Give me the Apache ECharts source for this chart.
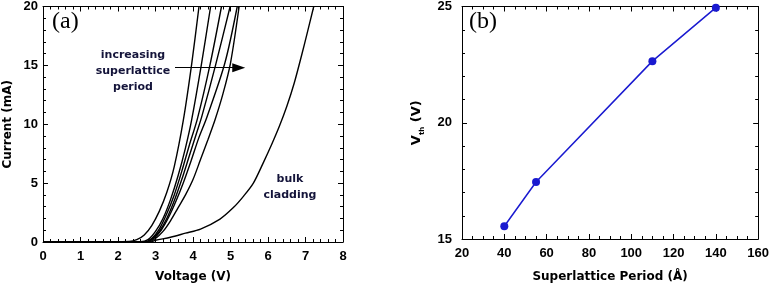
<!DOCTYPE html>
<html>
<head>
<meta charset="utf-8">
<script src="https://cdn.jsdelivr.net/npm/echarts@6/dist/echarts.min.js"></script>
<style>
  html, body { margin: 0; padding: 0; background: #fff; }
  #main { width: 772px; height: 288px; }
</style>
</head>
<body>
<div id="main"></div>
<script>
// (a) I-V curves, [voltage, current]
var sl1 = [[0, 0], [2.3, 0.05], [2.5, 0.2], [2.7, 0.6], [2.9, 1.4], [3.1, 2.6], [3.3, 4.2], [3.5, 6.4], [3.74, 10.3], [3.96, 15.0], [4.16, 20]];
var sl2 = [[0, 0], [2.6, 0.02], [2.8, 0.2], [3.0, 0.9], [3.2, 2.0], [3.4, 3.6], [3.6, 5.6], [3.8, 8.0], [3.96, 10.3], [4.22, 15], [4.47, 20]];
var sl3 = [[0, 0], [2.7, 0], [2.9, 0.3], [3.1, 1.1], [3.3, 2.4], [3.5, 4.0], [3.7, 6.0], [3.9, 8.2], [4.12, 10.5], [4.45, 15], [4.76, 20]];
var sl4 = [[0, 0], [2.7, 0], [2.9, 0.25], [3.1, 0.9], [3.3, 2.0], [3.5, 3.5], [3.7, 5.3], [3.9, 7.3], [4.1, 9.3], [4.23, 10.6], [4.6, 15], [4.99, 20]];
var sl5 = [[0, 0], [2.75, 0], [2.95, 0.3], [3.15, 1.0], [3.35, 2.1], [3.55, 3.5], [3.75, 5.1], [3.95, 6.9], [4.15, 8.8], [4.37, 10.6], [4.85, 15.2], [5.18, 20]];
var sl6 = [[0, 0], [2.8, 0], [3.0, 0.3], [3.2, 0.9], [3.4, 1.8], [3.6, 2.9], [3.8, 4.0], [4.0, 5.3], [4.2, 7.0], [4.4, 8.7], [4.59, 10.4], [4.8, 12.6], [5.0, 15.2], [5.23, 20]];
var bulk = [[0, 0], [2.85, 0], [3.0, 0.15], [3.4, 0.4], [3.8, 0.75], [4.2, 1.1], [4.72, 1.95], [5.07, 2.9], [5.35, 3.9], [5.61, 5.0], [5.87, 6.7], [6.1, 8.3], [6.3, 9.8], [6.5, 11.5], [6.7, 13.5], [6.9, 15.9], [7.05, 17.8], [7.22, 20]];

// (b) threshold voltage vs superlattice period
var period = [40, 55, 110, 140];
var vth = [15.55, 17.45, 22.65, 24.95];

var myChart = echarts.init(document.getElementById('main'));

var labelFont = { color: '#000', fontFamily: 'Arial, "Liberation Sans"', fontWeight: 'bold', fontSize: 13 };
var nameFont = { color: '#000', fontFamily: '"DejaVu Sans"', fontWeight: 'bold', fontSize: 12 };
var annFont = '"DejaVu Sans"';
var inkColor = '#14143a';

function baseAxis(extra) {
	var a = {
		type: 'value',
		axisLine: { show: true, onZero: false, lineStyle: { color: '#000', width: 1 } },
		axisTick: { show: true, inside: true, length: 5, lineStyle: { color: '#000' } },
		minorTick: { show: true, splitNumber: 5, length: 3, lineStyle: { color: '#000' } },
		splitLine: { show: false },
		axisLabel: Object.assign({ show: true }, labelFont)
	};
	return Object.assign(a, extra);
}

var ivLines = [sl1, sl2, sl3, sl4, sl5, sl6, bulk].map(function(d, i) {
	return {
		type: 'line',
		xAxisIndex: 0,
		yAxisIndex: 0,
		data: d,
		symbol: 'none',
		smooth: 0.3,
		lineStyle: { color: '#000', width: 1.4 },
		silent: true
	};
});

// arrow annotation
ivLines[0].markLine = {
	silent: true,
	symbol: ['none', 'triangle'],
	symbolSize: [9, 13],
	label: { show: false },
	lineStyle: { color: '#000', width: 1.2, type: 'solid' },
	data: [[{ coord: [3.52, 14.8] }, { coord: [5.22, 14.8] }]]
};

var option = {
	animation: false,
	grid: [
		{ left: 43, right: 429, top: 5, bottom: 45 },
		{ left: 462, right: 11, top: 5, bottom: 46 }
	],
	xAxis: [
		baseAxis({ gridIndex: 0, min: 0, max: 8, interval: 1, position: 'bottom',
			name: 'Voltage (V)', nameLocation: 'middle', nameGap: 29, nameTextStyle: nameFont,
			axisLabel: Object.assign({ margin: 8 }, labelFont) }),
		baseAxis({ gridIndex: 0, min: 0, max: 8, interval: 1, position: 'top', axisLabel: { show: false } }),
		baseAxis({ gridIndex: 1, min: 20, max: 160, interval: 20, position: 'bottom',
			minorTick: { show: true, splitNumber: 4, length: 3, lineStyle: { color: '#000' } },
			name: 'Superlattice Period (Å)', nameLocation: 'middle', nameGap: 32, nameTextStyle: nameFont,
			axisLabel: Object.assign({ margin: 8 }, labelFont) }),
		baseAxis({ gridIndex: 1, min: 20, max: 160, interval: 20, position: 'top', axisLabel: { show: false },
			minorTick: { show: true, splitNumber: 4, length: 3, lineStyle: { color: '#000' } } })
	],
	yAxis: [
		baseAxis({ gridIndex: 0, min: 0, max: 20, interval: 5, position: 'left',
			name: 'Current (mA)', nameLocation: 'middle', nameGap: 29, nameTextStyle: nameFont,
			axisLabel: Object.assign({ margin: 5 }, labelFont) }),
		baseAxis({ gridIndex: 0, min: 0, max: 20, interval: 5, position: 'right', axisLabel: { show: false } }),
		baseAxis({ gridIndex: 1, min: 15, max: 25, interval: 5, position: 'left',
			name: '{a|V}{b|th}{a| (V)}', nameLocation: 'middle', nameGap: 36,
			nameTextStyle: {
				rich: {
					a: { fontFamily: '"DejaVu Sans"', fontWeight: 'bold', fontSize: 13, color: '#000', lineHeight: 18 },
					b: { fontFamily: '"DejaVu Sans"', fontWeight: 'bold', fontSize: 7, color: '#000', lineHeight: 8, verticalAlign: 'bottom' }
				}
			},
			axisLabel: Object.assign({ margin: 10 }, labelFont) }),
		baseAxis({ gridIndex: 1, min: 15, max: 25, interval: 5, position: 'right', axisLabel: { show: false } })
	],
	series: ivLines.concat([{
		type: 'line',
		xAxisIndex: 2,
		yAxisIndex: 2,
		data: period.map(function(p, i) { return [p, vth[i]]; }),
		symbol: 'circle',
		symbolSize: 8,
		itemStyle: { color: '#1a1ad0' },
		lineStyle: { color: '#1a1ad0', width: 1.5 },
		silent: true
	}]),
	graphic: [
		{ type: 'text', x: 52, y: 10, style: { text: '(a)', font: '24px "Liberation Serif", "Times New Roman", serif', fill: '#000' } },
		{ type: 'text', x: 469, y: 10, style: { text: '(b)', font: '24px "Liberation Serif", "Times New Roman", serif', fill: '#000' } },
		{ type: 'text', x: 133, y: 47, style: { text: 'increasing\nsuperlattice\nperiod', font: 'bold 11px ' + annFont, fill: inkColor, align: 'center', verticalAlign: 'top', lineHeight: 16 } },
		{ type: 'text', x: 290, y: 171, style: { text: 'bulk\ncladding', font: 'bold 11px ' + annFont, fill: inkColor, align: 'center', verticalAlign: 'top', lineHeight: 16 } }
	]
};

myChart.setOption(option);
</script>
</body>
</html>
